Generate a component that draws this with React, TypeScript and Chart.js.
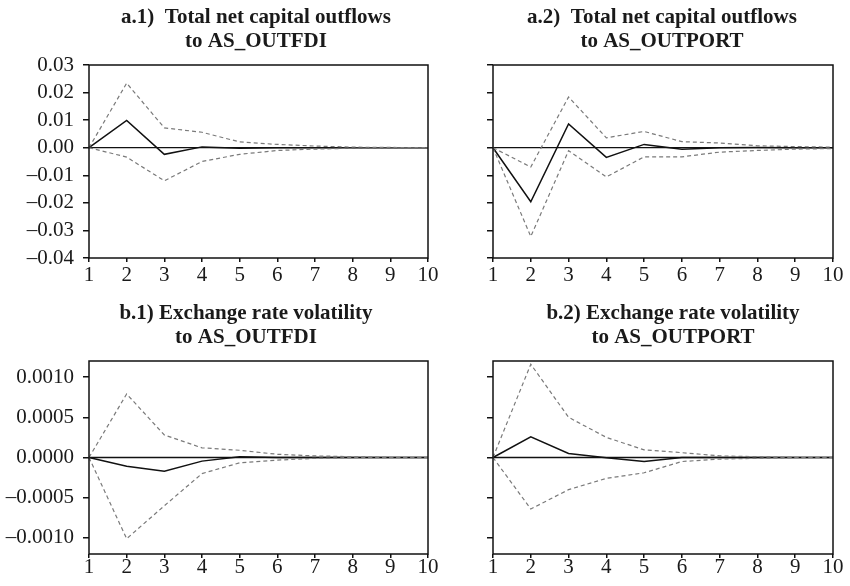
import React, { useEffect, useRef } from "react";
import { Chart, registerables } from "chart.js";

Chart.register(...registerables);

const periods = ["1", "2", "3", "4", "5", "6", "7", "8", "9", "10"];

// a.1 Total net capital outflows to AS_OUTFDI
const a1Response = [0, 0.0099, -0.0024, 0.0003, -0.0002, 0, 0, 0, 0, 0];
const a1Upper = [0, 0.0234, 0.0072, 0.0056, 0.0021, 0.0012, 0.0006, 0.0002, 0.0001, 0];
const a1Lower = [0, -0.0034, -0.012, -0.005, -0.0024, -0.001, -0.0005, -0.0002, -0.0001, 0];

// a.2 Total net capital outflows to AS_OUTPORT
const a2Response = [0, -0.0196, 0.0086, -0.0035, 0.0012, -0.0006, 0, 0.0001, 0, 0];
const a2Upper = [0, -0.007, 0.0184, 0.0036, 0.0059, 0.0022, 0.0017, 0.0007, 0.0004, 0.0002];
const a2Lower = [0, -0.0322, -0.0011, -0.0106, -0.0033, -0.0033, -0.0016, -0.001, -0.0005, -0.0003];

// b.1 Exchange rate volatility to AS_OUTFDI
const b1Response = [0, -0.00011, -0.00017, -0.000045, 0.00001, 0, 0, 0, 0, 0];
const b1Upper = [0, 0.00079, 0.00028, 0.00012, 0.00009, 0.00004, 0.00002, 0.00001, 0, 0];
const b1Lower = [0, -0.00101, -0.0006, -0.0002, -0.000066, -0.000033, -0.00001, 0, 0, 0];

// b.2 Exchange rate volatility to AS_OUTPORT
const b2Response = [0, 0.000256, 0.00005, -0.000004, -0.00005, 0, 0, 0, 0, 0];
const b2Upper = [0, 0.00116, 0.0005, 0.00025, 0.000095, 0.00006, 0.00002, 0.00001, 0, 0];
const b2Lower = [0, -0.00064, -0.0004, -0.00026, -0.00019, -0.00005, -0.00002, -0.00001, 0, 0];

const aTicks = [-0.04, -0.03, -0.02, -0.01, 0, 0.01, 0.02, 0.03];
const bTicks = [-0.001, -0.0005, 0, 0.0005, 0.001];

const a1Title = ["a.1)  Total net capital outflows", "to AS_OUTFDI"];
const a2Title = ["a.2)  Total net capital outflows", "to AS_OUTPORT"];
const b1Title = ["b.1) Exchange rate volatility", "to AS_OUTFDI"];
const b2Title = ["b.2) Exchange rate volatility", "to AS_OUTPORT"];

const FONT = "'Liberation Serif', 'Times New Roman', serif";

type Panel = {
  title: string[];
  response: number[];
  upper: number[];
  lower: number[];
  ticks: number[];
  min: number;
  max: number;
  decimals: number;
  showLabels: boolean;
  canvas: { left: number; top: number; width: number; height: number };
  plot: { left: number; right: number; top: number; bottom: number };
  titleX: number;
  xPad: number;
};

const panels: Panel[] = [
  {
    title: a1Title, response: a1Response, upper: a1Upper, lower: a1Lower,
    ticks: aTicks, min: -0.04, max: 0.03, decimals: 2, showLabels: true,
    canvas: { left: 0, top: 0, width: 440, height: 293 },
    plot: { left: 89, right: 428, top: 65, bottom: 258 },
    titleX: 256, xPad: 1,
  },
  {
    title: a2Title, response: a2Response, upper: a2Upper, lower: a2Lower,
    ticks: aTicks, min: -0.04, max: 0.03, decimals: 2, showLabels: false,
    canvas: { left: 440, top: 0, width: 410, height: 293 },
    plot: { left: 493, right: 833, top: 65, bottom: 258 },
    titleX: 662, xPad: 1,
  },
  {
    title: b1Title, response: b1Response, upper: b1Upper, lower: b1Lower,
    ticks: bTicks, min: -0.0012, max: 0.0012, decimals: 4, showLabels: true,
    canvas: { left: 0, top: 293, width: 440, height: 293 },
    plot: { left: 89, right: 428, top: 361, bottom: 554 },
    titleX: 246, xPad: -3,
  },
  {
    title: b2Title, response: b2Response, upper: b2Upper, lower: b2Lower,
    ticks: bTicks, min: -0.0012, max: 0.0012, decimals: 4, showLabels: false,
    canvas: { left: 440, top: 293, width: 410, height: 293 },
    plot: { left: 493, right: 833, top: 361, bottom: 554 },
    titleX: 673, xPad: -3,
  },
];

function PanelChart({ p }: { p: Panel }) {
  const ref = useRef<HTMLCanvasElement | null>(null);
  useEffect(() => {
    if (!ref.current) return;
    const c = p.canvas;
    const yWidth = p.plot.left - c.left;
    const xHeight = c.top + c.height - p.plot.bottom;
    const padTop = p.plot.top - c.top;
    const padRight = c.left + c.width - p.plot.right;

    const framePlugin = {
      id: "frame",
      beforeDatasetsDraw(chart: any) {
        const { ctx, chartArea, scales } = chart;
        const y0 = scales.y.getPixelForValue(0);
        ctx.save();
        ctx.strokeStyle = "#111";
        ctx.lineWidth = 1.3;
        ctx.beginPath();
        ctx.moveTo(chartArea.left, y0);
        ctx.lineTo(chartArea.right, y0);
        ctx.stroke();
        ctx.restore();
      },
      afterDraw(chart: any) {
        const { ctx, chartArea } = chart;
        ctx.save();
        ctx.strokeStyle = "#111";
        ctx.lineWidth = 1.5;
        ctx.strokeRect(chartArea.left, chartArea.top, chartArea.right - chartArea.left, chartArea.bottom - chartArea.top);
        ctx.fillStyle = "#1a1a1a";
        ctx.font = `bold 21px ${FONT}`;
        ctx.textAlign = "center";
        ctx.textBaseline = "alphabetic";
        const tx = p.titleX - c.left;
        ctx.fillText(p.title[0], tx, chartArea.top - 42);
        ctx.fillText(p.title[1], tx, chartArea.top - 18.5);
        ctx.restore();
      },
    };

    const chart = new Chart(ref.current, {
      type: "line",
      data: {
        labels: periods,
        datasets: [
          { data: p.upper, borderColor: "#7a7a7a", borderWidth: 1.2, borderDash: [4, 3], pointRadius: 0, tension: 0, fill: false },
          { data: p.lower, borderColor: "#7a7a7a", borderWidth: 1.2, borderDash: [4, 3], pointRadius: 0, tension: 0, fill: false },
          { data: p.response, borderColor: "#111", borderWidth: 1.5, pointRadius: 0, tension: 0, fill: false },
        ],
      },
      options: {
        responsive: false,
        animation: false,
        events: [],
        layout: { padding: { top: padTop, right: padRight, left: 0, bottom: 0 } },
        plugins: { legend: { display: false }, tooltip: { enabled: false }, title: { display: false } },
        scales: {
          x: {
            type: "category",
            offset: false,
            border: { display: false },
            grid: { drawOnChartArea: false, drawTicks: true, tickLength: 4, color: "#111", tickColor: "#111", lineWidth: 1.5 },
            ticks: { color: "#1a1a1a", font: { family: FONT, size: 21 }, padding: p.xPad, maxRotation: 0, autoSkip: false },
            afterFit(scale: any) { scale.height = xHeight; },
          },
          y: {
            type: "linear",
            min: p.min,
            max: p.max,
            border: { display: false },
            grid: { drawOnChartArea: false, drawTicks: true, tickLength: 6, color: "#111", tickColor: "#111", lineWidth: 1.5 },
            afterBuildTicks(scale: any) { scale.ticks = p.ticks.map((v) => ({ value: v })); },
            ticks: {
              color: "#1a1a1a",
              font: { family: FONT, size: 21 },
              padding: 9,
              autoSkip: false,
              callback: (v: any) => (p.showLabels ? Number(v).toFixed(p.decimals).replace("-", "\u2013") : ""),
            },
            afterFit(scale: any) { scale.width = yWidth; },
          },
        },
      },
      plugins: [framePlugin],
    });
    return () => chart.destroy();
  }, [p]);
  return (
    <canvas
      ref={ref}
      width={p.canvas.width}
      height={p.canvas.height}
      style={{ position: "absolute", left: p.canvas.left, top: p.canvas.top, width: p.canvas.width, height: p.canvas.height }}
    />
  );
}

export default function App() {
  return (
    <div style={{ position: "absolute", left: 0, top: 0, width: 850, height: 586, background: "#fff" }}>
      {panels.map((p, i) => (
        <PanelChart key={i} p={p} />
      ))}
    </div>
  );
}
